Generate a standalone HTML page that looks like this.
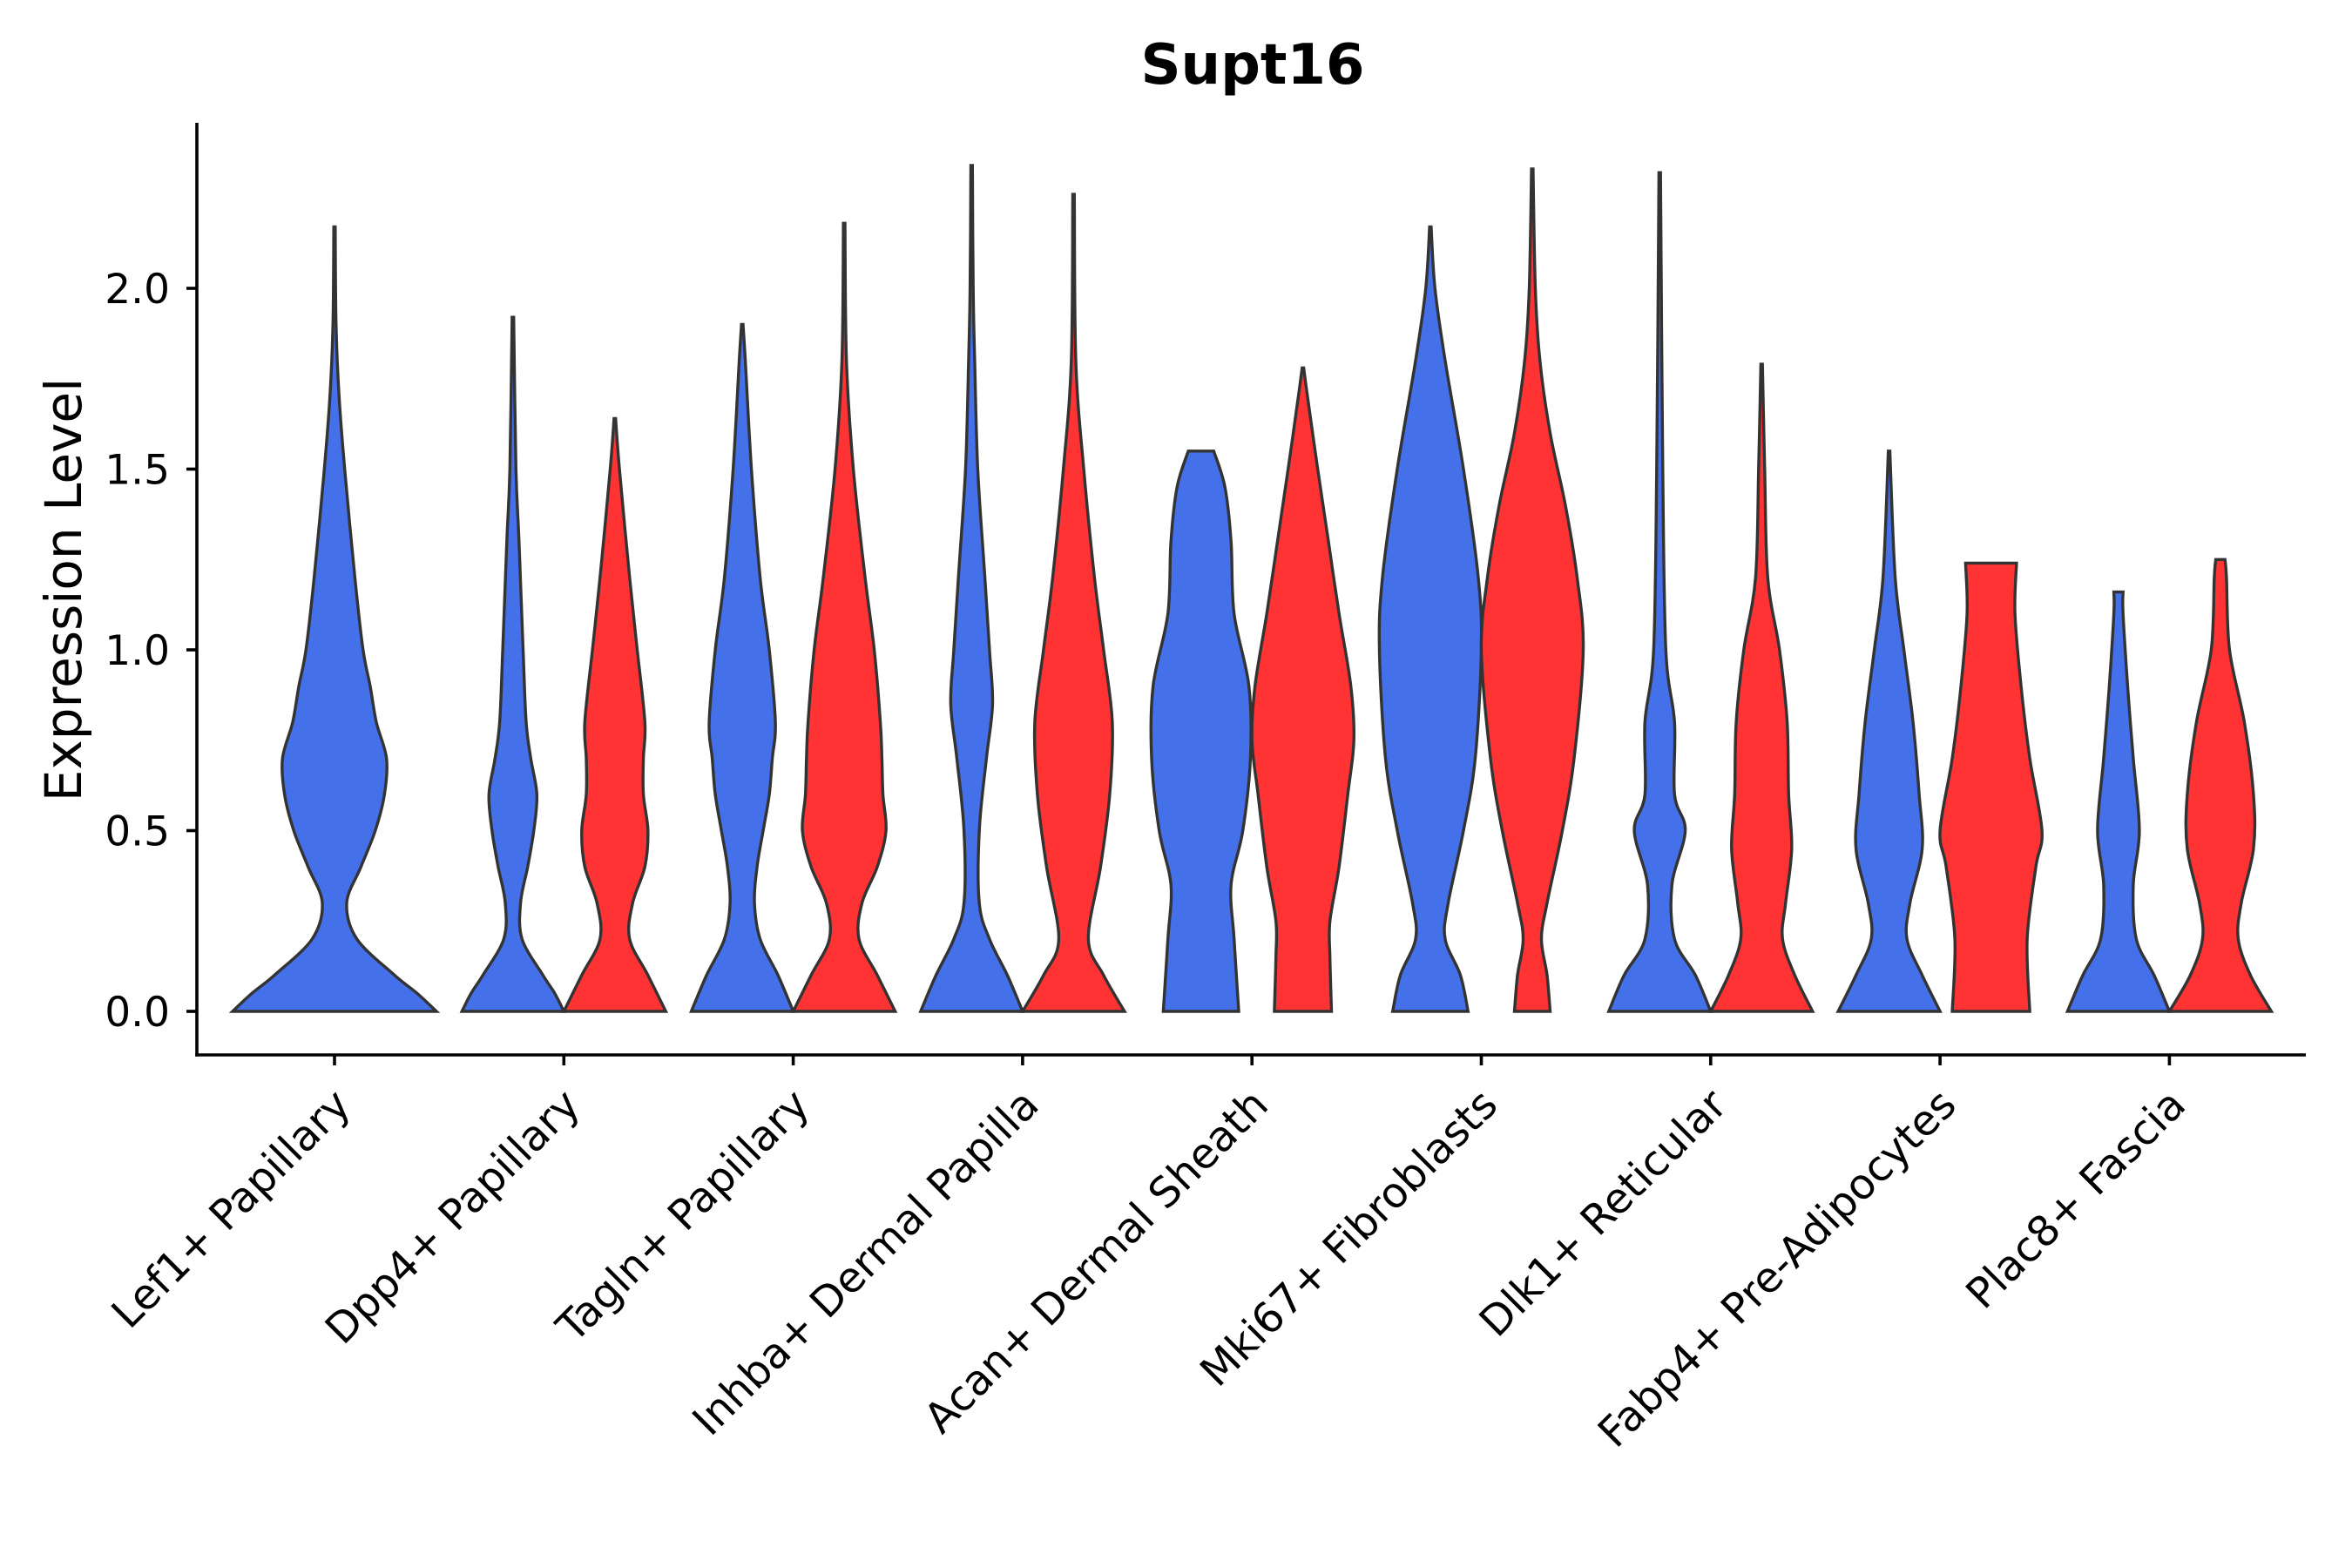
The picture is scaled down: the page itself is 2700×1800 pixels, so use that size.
<!DOCTYPE html>
<html><head><meta charset="utf-8"><style>
html,body{margin:0;padding:0;background:#fff}
svg{display:block}
text{font-family:"DejaVu Sans","Liberation Sans",sans-serif;fill:#000}
</style></head><body>
<svg id="chart" width="2700" height="1800" viewBox="0 0 2700 1800" xmlns="http://www.w3.org/2000/svg">
<text x="1438" y="96" text-anchor="middle" font-size="64" font-weight="bold">Supt16</text>
<text transform="translate(93,677) rotate(-90)" text-anchor="middle" font-size="58">Expression Level</text>
<g id="violins"></g>
<g id="axes"></g>
</svg>
<script>
const categories = ["Lef1+ Papillary","Dpp4+ Papillary","Tagln+ Papillary","Inhba+ Dermal Papilla","Acan+ Dermal Sheath","Mki67+ Fibroblasts","Dlk1+ Reticular","Fabp4+ Pre-Adipocytes","Plac8+ Fascia"];
const yTicks = [0, 0.5, 1.0, 1.5, 2.0];
const yTickLabels = ["0.0","0.5","1.0","1.5","2.0"];
// violin profiles: [expression value, relative half-width (max 1)]
const blueViolins = [
 [[0,1],[0.05,0.81],[0.1,0.59],[0.2,0.22],[0.3,0.12],[0.4,0.26],[0.5,0.4],[0.6,0.49],[0.7,0.51],[0.8,0.41],[0.9,0.35],[1.0,0.28],[1.2,0.2],[1.5,0.1],[1.7,0.045],[1.9,0.015],[2.17,0.007]],
 [[0,1],[0.05,0.82],[0.1,0.59],[0.2,0.18],[0.3,0.15],[0.4,0.29],[0.5,0.41],[0.6,0.47],[0.7,0.35],[0.8,0.26],[1.0,0.2],[1.3,0.12],[1.5,0.06],[1.92,0.015]],
 [[0,1],[0.1,0.7],[0.2,0.35],[0.3,0.24],[0.4,0.29],[0.5,0.41],[0.6,0.53],[0.7,0.59],[0.8,0.65],[1.0,0.53],[1.2,0.35],[1.5,0.18],[1.8,0.06],[1.9,0.015]],
 [[0,1],[0.1,0.7],[0.2,0.35],[0.3,0.15],[0.5,0.15],[0.7,0.29],[0.85,0.41],[1.0,0.35],[1.2,0.26],[1.5,0.12],[1.8,0.06],[2.0,0.03],[2.34,0.015]],
 [[0,0.74],[0.2,0.65],[0.35,0.59],[0.5,0.82],[0.7,0.97],[0.9,0.94],[1.1,0.65],[1.3,0.59],[1.45,0.47],[1.55,0.25]],
 [[0,0.74],[0.1,0.59],[0.2,0.29],[0.3,0.35],[0.5,0.65],[0.7,0.88],[1.0,1],[1.2,0.94],[1.5,0.65],[1.8,0.29],[2.0,0.09],[2.17,0.015]],
 [[0,1],[0.1,0.7],[0.2,0.29],[0.35,0.24],[0.5,0.5],[0.6,0.29],[0.8,0.29],[1.0,0.12],[1.5,0.06],[2.32,0.015]],
 [[0,1],[0.1,0.65],[0.2,0.35],[0.3,0.41],[0.45,0.65],[0.6,0.59],[0.8,0.47],[1.0,0.29],[1.2,0.12],[1.55,0.015]],
 [[0,1],[0.1,0.7],[0.2,0.35],[0.35,0.29],[0.5,0.41],[0.7,0.29],[0.9,0.18],[1.1,0.09],[1.16,0.09]]
];
const redViolins = [
 null,
 [[0,1],[0.1,0.65],[0.2,0.29],[0.3,0.35],[0.4,0.59],[0.5,0.65],[0.6,0.56],[0.7,0.56],[0.8,0.59],[1.0,0.44],[1.2,0.29],[1.5,0.09],[1.64,0.015]],
 [[0,1],[0.1,0.65],[0.2,0.29],[0.3,0.35],[0.4,0.65],[0.5,0.82],[0.6,0.76],[0.7,0.74],[0.8,0.71],[1.0,0.59],[1.2,0.41],[1.5,0.18],[1.8,0.045],[2.18,0.015]],
 [[0,1],[0.1,0.59],[0.2,0.29],[0.4,0.53],[0.6,0.71],[0.8,0.76],[1.0,0.59],[1.2,0.41],[1.5,0.2],[1.8,0.045],[2.26,0.015]],
 [[0,0.56],[0.15,0.53],[0.25,0.53],[0.4,0.71],[0.6,0.88],[0.75,1],[0.9,0.94],[1.1,0.71],[1.3,0.5],[1.5,0.29],[1.7,0.09],[1.78,0.015]],
 [[0,0.35],[0.1,0.29],[0.2,0.18],[0.3,0.29],[0.5,0.59],[0.7,0.82],[1.0,1],[1.2,0.88],[1.4,0.65],[1.6,0.35],[1.8,0.15],[2.0,0.06],[2.33,0.015]],
 [[0,1],[0.1,0.65],[0.2,0.41],[0.3,0.47],[0.45,0.59],[0.6,0.53],[0.8,0.5],[1.0,0.35],[1.2,0.12],[1.5,0.06],[1.79,0.015]],
 [[0,0.76],[0.2,0.71],[0.4,0.88],[0.5,1],[0.7,0.76],[0.9,0.59],[1.1,0.47],[1.24,0.5]],
 [[0,1],[0.1,0.59],[0.2,0.35],[0.3,0.41],[0.45,0.65],[0.6,0.65],[0.8,0.47],[1.0,0.18],[1.2,0.12],[1.25,0.09]]
];
const NS="http://www.w3.org/2000/svg";
const X0=226, X1=2647, YT=141, YB=1211, Y0=1161, PER=415, STEP=263.3, CX0=384, HALF=58.5;
function yScale(v){return Y0 - v*PER;}
function xCenter(i){return CX0 + i*STEP;}
function spline(pts){
  let d="";
  for(let i=0;i<pts.length-1;i++){
    const p0=pts[Math.max(0,i-1)],p1=pts[i],p2=pts[i+1],p3=pts[Math.min(pts.length-1,i+2)];
    const c1=[p1[0]+(p2[0]-p0[0])/6,p1[1]+(p2[1]-p0[1])/6];
    const c2=[p2[0]-(p3[0]-p1[0])/6,p2[1]-(p3[1]-p1[1])/6];
    d+=` C${c1[0].toFixed(1)},${c1[1].toFixed(1)} ${c2[0].toFixed(1)},${c2[1].toFixed(1)} ${p2[0].toFixed(1)},${p2[1].toFixed(1)}`;
  }
  return d;
}
function violinPath(cx,half,prof){
  const right=prof.map(p=>[cx+p[1]*half,yScale(p[0])]);
  const left=prof.slice().reverse().map(p=>[cx-p[1]*half,yScale(p[0])]);
  let d=`M${right[0][0].toFixed(1)},${right[0][1].toFixed(1)}`+spline(right);
  d+=` L${left[0][0].toFixed(1)},${left[0][1].toFixed(1)}`+spline(left)+" Z";
  return d;
}
const vg=document.getElementById('violins');
categories.forEach((c,i)=>{
  const cx=xCenter(i);
  const red=redViolins[i];
  if(!red){
    const p=document.createElementNS(NS,'path');
    p.setAttribute('d',violinPath(cx,HALF*2,blueViolins[i]));
    p.setAttribute('fill','#4470EA');p.setAttribute('stroke','#333');p.setAttribute('stroke-width','3.4');
    
    
    vg.appendChild(p);
  } else {
    const pb=document.createElementNS(NS,'path');
    pb.setAttribute('d',violinPath(cx-HALF,HALF,blueViolins[i]));
    pb.setAttribute('fill','#4470EA');pb.setAttribute('stroke','#333');pb.setAttribute('stroke-width','3.4');
    
    
    vg.appendChild(pb);
    const pr=document.createElementNS(NS,'path');
    pr.setAttribute('d',violinPath(cx+HALF,HALF,red));
    pr.setAttribute('fill','#FF3333');pr.setAttribute('stroke','#333');pr.setAttribute('stroke-width','3.4');
    
    
    vg.appendChild(pr);
  }
});
const ag=document.getElementById('axes');
function line(x1,y1,x2,y2,name){
  const l=document.createElementNS(NS,'line');
  l.setAttribute('x1',x1);l.setAttribute('y1',y1);l.setAttribute('x2',x2);l.setAttribute('y2',y2);
  l.setAttribute('stroke','#000');l.setAttribute('stroke-width','3.6');
  
  
  ag.appendChild(l);
}
line(X0,YT,X0,YB+1.8,'y-axis-line');
line(X0-1.8,YB,X1,YB,'x-axis-line');
yTicks.forEach((v,i)=>{
  const y=yScale(v);
  line(X0-12,y,X0,y,'y-tick');
  const t=document.createElementNS(NS,'text');
  t.setAttribute('x',X0-31);t.setAttribute('y',y+17);t.setAttribute('text-anchor','end');t.setAttribute('font-size','47');
  t.textContent=yTickLabels[i];
  
  
  ag.appendChild(t);
});
categories.forEach((c,i)=>{
  const x=xCenter(i);
  line(x,YB,x,YB+12,'x-tick');
  const t=document.createElementNS(NS,'text');
  t.setAttribute('transform',`translate(${x+21},${YB+60}) rotate(-45)`);
  t.setAttribute('text-anchor','end');t.setAttribute('font-size','48');
  t.textContent=c;
  
  
  ag.appendChild(t);
});
</script>
</body></html>
